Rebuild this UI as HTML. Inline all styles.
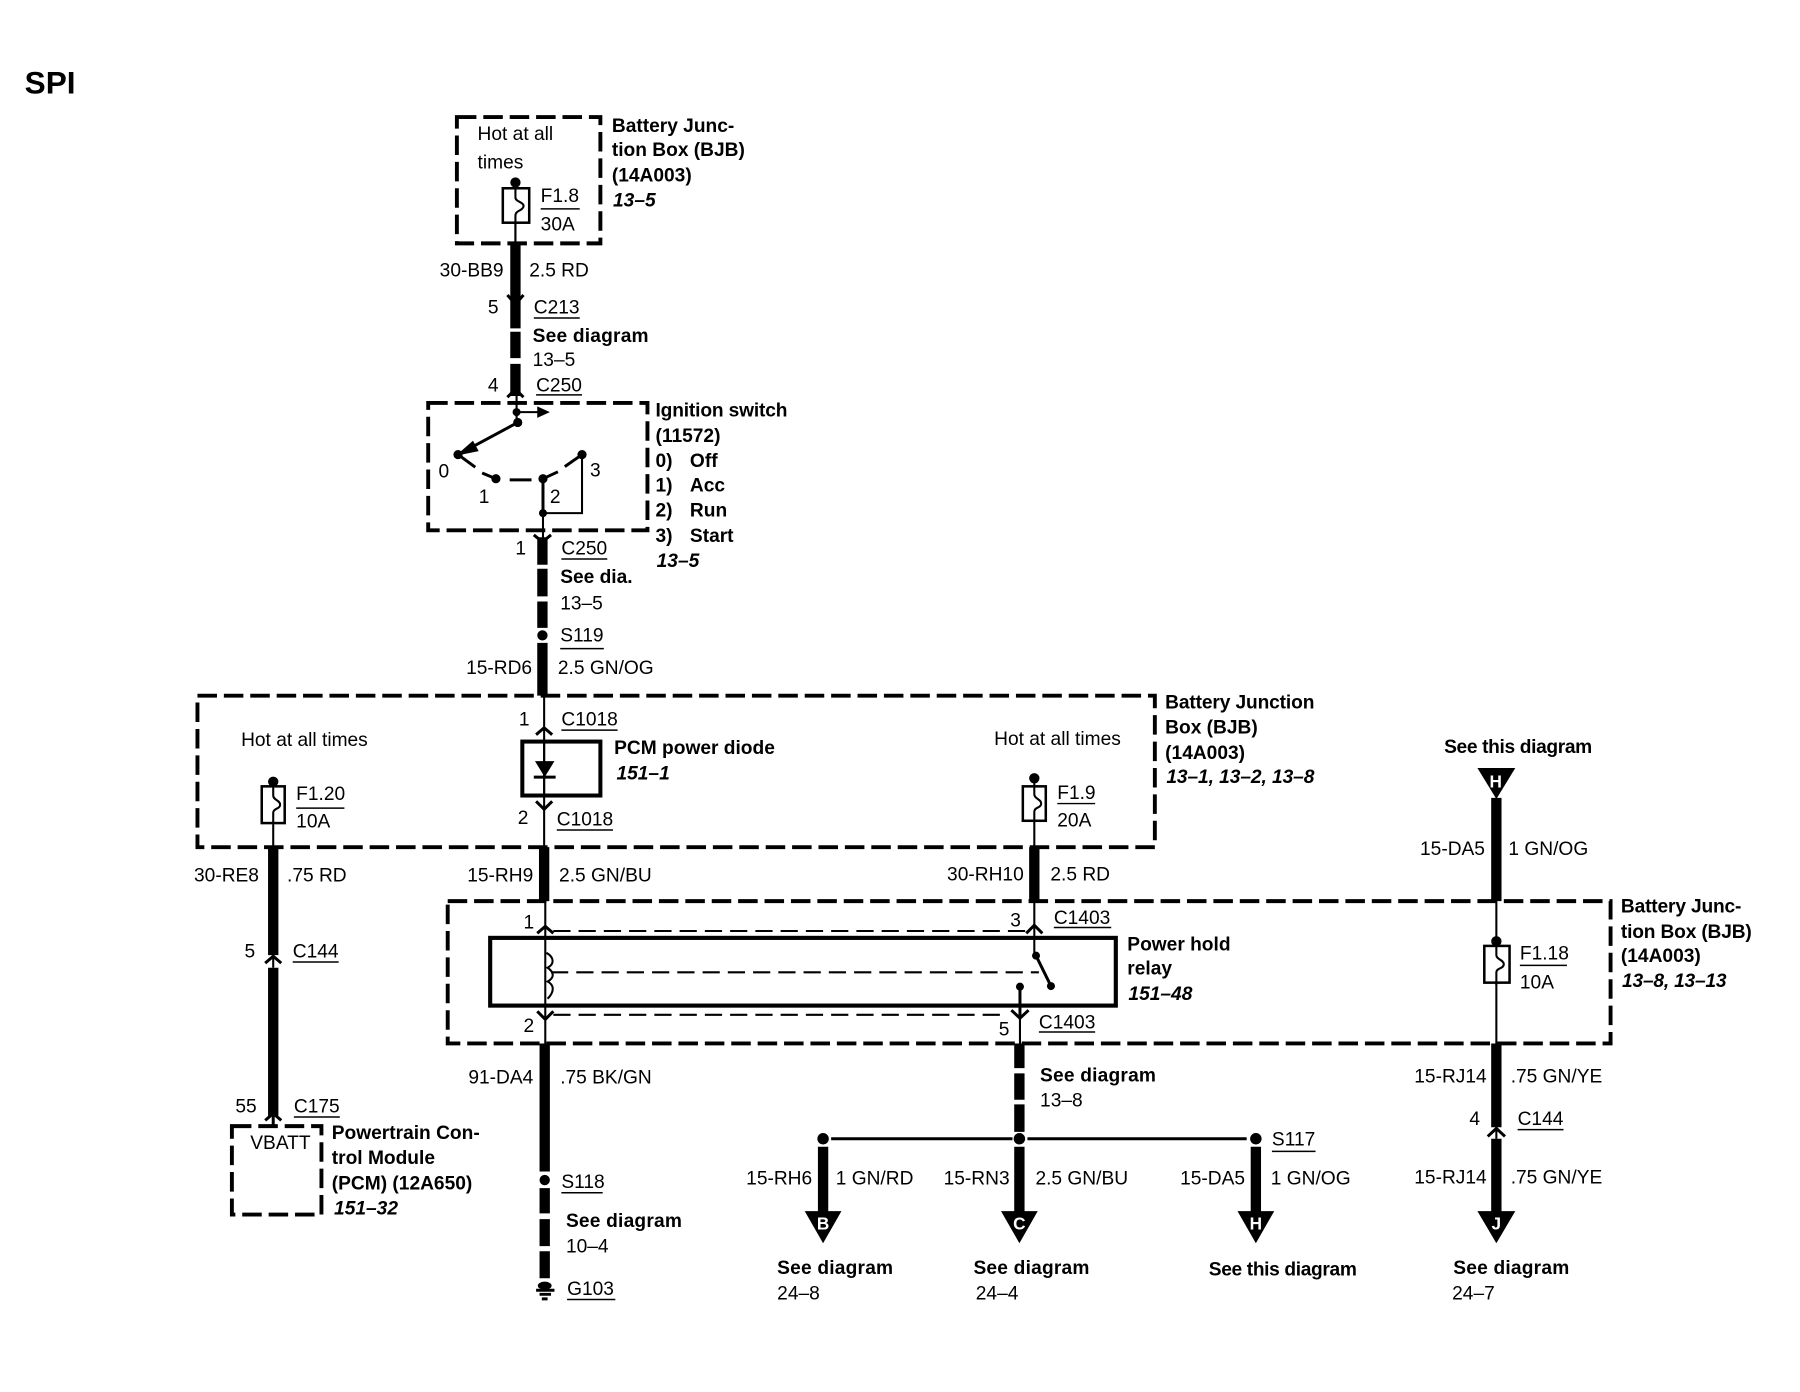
<!DOCTYPE html>
<html><head><meta charset="utf-8"><style>
html,body{margin:0;padding:0;background:#fff}
svg{display:block}
text{font-family:"Liberation Sans",sans-serif;font-size:16.7px;fill:#000}
.b{font-weight:bold}
.i{font-weight:bold;font-style:italic}
.w{fill:#fff;font-weight:bold;font-size:15px;text-anchor:middle}
.d{fill:none;stroke:#000;stroke-width:3.4;stroke-dasharray:17 6}
.t{fill:none;stroke:#000;stroke-width:1.8}
.k{fill:none;stroke:#000;stroke-width:9}
.c{fill:none;stroke:#000;stroke-width:2.6}
.u{fill:none;stroke:#000;stroke-width:1.3}
.r{fill:#fff;stroke:#000;stroke-width:2.2}
.l{fill:none;stroke:#000;stroke-width:1.8;stroke-dasharray:15 7}
</style></head><body>
<svg width="1800" height="1392" viewBox="0 0 1568 1212.6" xmlns="http://www.w3.org/2000/svg">
<rect width="1568" height="1212.6" fill="#fff"/>
<text x="21.500" y="81.500" class="b" style="font-size:27.500px">SPI</text>

<!-- dashed boxes -->
<rect class="d" x="398" y="102" width="125" height="110"/>
<rect class="d" x="373" y="351" width="191" height="111"/>
<rect class="d" x="172" y="606" width="834" height="132"/>
<rect class="d" x="390" y="785" width="1013" height="124"/>
<rect class="d" x="202" y="981" width="78" height="77"/>

<!-- top column -->
<path class="t" d="M449 159V212"/>
<circle cx="449" cy="159" r="4.5"/>
<rect class="r" x="438" y="164" width="23" height="30"/>
<path class="t" d="M449 159V172C449 176 457 176 456 180C455 184 449 183 449 188V212"/>
<path class="k" d="M449 212V286M449 289V312M449 317V345"/>
<path class="c" d="M442 257L449 265L456 257M442 346L449 339L456 346"/>
<path class="t" d="M450 345V368"/>
<circle cx="450" cy="359" r="3.5"/><circle cx="451" cy="368" r="4"/>
<path class="t" d="M450 359H470"/><path d="M468 354L479 359L468 364Z"/>
<path class="c" d="M451 368L399 396"/><path d="M397 397L412 384L417 393Z"/>
<circle cx="399" cy="396" r="4"/><circle cx="432" cy="417" r="4"/><circle cx="473" cy="417" r="4"/><circle cx="507" cy="396" r="4"/><circle cx="473" cy="447" r="3.5"/>
<path class="c" d="M399 396L414 407M420 412L432 417M444 418H463M473 417L486 411M492 406.500L507 396"/>
<path class="c" d="M473 417V447"/>
<path class="t" d="M507 396V447H473V470"/>
<path class="c" d="M465 466L472.500 472L480 466"/>
<path class="k" d="M472.500 468V492M472.500 495.500V519.500M472.500 524V547M472.500 560V606"/>
<circle cx="472.500" cy="553.500" r="4.5"/>

<!-- center column -->
<path class="t" d="M474 606V738"/>
<path class="c" d="M467 640L474 634L481 640M467 698L474 705L481 698"/>
<rect x="455" y="646" width="68" height="47" fill="none" stroke="#000" stroke-width="3.5"/>
<path d="M466 663H483L474.500 677Z"/><path class="c" d="M465 677H484"/>
<path class="t" d="M474 646V693"/>
<path class="k" d="M474 738V785"/>
<path class="t" d="M475 785V909"/>
<path class="c" d="M468 813L475 807L482 813M468 881L475 888L482 881"/>
<rect x="427" y="817" width="545" height="59" fill="none" stroke="#000" stroke-width="3.6"/>
<path class="t" d="M476 830C483 834 483 840 477 843C483 847 483 852 477 855C483 858 483 864 477 870"/>
<path class="l" d="M482 811H896M480 847H905M482 884H878"/>
<path class="k" d="M474.500 909V1020.500M474.500 1035V1057M474.500 1062V1085.500M474.500 1090V1113.500"/>
<circle cx="474.500" cy="1028" r="4.5"/>
<ellipse cx="474.500" cy="1120" rx="6" ry="3.500"/>
<path class="c" d="M467 1124H483M470 1127.500H480M472 1131.500H477"/>

<!-- F1.20 -->
<circle cx="238" cy="681" r="4.500"/>
<rect class="r" x="228" y="685" width="20" height="32"/>
<path class="t" d="M238 681V693C238 697 244 697 244 701C244 705 238 704 238 708V738"/>
<path class="k" d="M238 738V832M238 843V972"/>
<path class="t" d="M238 832V843"/>
<path class="c" d="M231 839L238 833L245 839M231 976L238 970L245 976"/>
<path class="c" d="M238 970V981"/>

<!-- F1.9 -->
<circle cx="901" cy="678" r="4.500"/>
<rect class="r" x="891" y="685" width="20" height="30"/>
<path class="t" d="M901 678V692C901 696 907 696 907 700C907 704 901 703 901 707V738"/>
<path class="k" d="M901 738V785"/>
<path class="t" d="M901 785V832"/>
<path class="c" d="M894 813L901 806L908 813"/>
<circle cx="902.500" cy="832.500" r="3.500"/><circle cx="915.500" cy="859" r="3.500"/>
<path class="c" d="M902.500 832.500L915.500 859"/>
<circle cx="888.500" cy="859.500" r="3.500"/>
<path class="c" d="M888.500 859.500V885"/><path class="t" d="M888.500 885V909"/>
<path class="c" d="M881 880L888.500 887L896 880"/>
<path class="k" d="M888 909V930.500M888 935V958M888 962V986"/>

<!-- bus -->
<path class="c" d="M724 992H882M895 992H1086"/>
<circle cx="717" cy="992" r="5"/><circle cx="888" cy="992" r="5"/><circle cx="1094" cy="992" r="5"/>
<path class="k" d="M717 999V1058M888 999V1058M1094 999V1058"/>
<path d="M701 1055H733L717 1083Z"/><path d="M872 1055H904L888 1083Z"/><path d="M1078 1055H1110L1094 1083Z"/>
<text x="717" y="1071" class="w">B</text><text x="888" y="1071" class="w">C</text><text x="1094" y="1071" class="w">H</text>

<!-- right column -->
<path d="M1287 669H1320L1303.500 696Z"/>
<text x="1303" y="686" class="w">H</text>
<path class="k" d="M1303.500 695V785"/>
<path class="t" d="M1303.500 785V909"/>
<circle cx="1303.500" cy="820" r="4.500"/>
<rect class="r" x="1293" y="824" width="22" height="32"/>
<path class="t" d="M1303.500 820V832C1303.500 836 1310 836 1310 840C1310 844 1303.500 843 1303.500 847V858"/>
<path class="k" d="M1303.500 909V982M1303.500 992V1058"/>
<path class="t" d="M1303.500 982V992"/>
<path class="c" d="M1296 990L1303.500 983L1311 990"/>
<path d="M1287 1055H1320L1303.500 1083Z"/>
<text x="1303.500" y="1071" class="w">J</text>

<!-- underlines -->
<path class="u" d="M471 182H505M465 277H505M467 344H507M489 487H529M488 565H526M258 704H300M489 636H538M485 723H534M921 700H954M255 838H295M256 973H296M918 808H968M905 899H954M1324 841H1365M1322 984H1362M489 1039H525M494 1132H536M1108 1003H1146"/>

<!-- labels -->
<text x="416" y="122">Hot at all</text><text x="416" y="147">times</text>
<text x="471" y="176">F1.8</text><text x="471" y="201">30A</text>
<text x="533" y="115" class="b">Battery Junc-</text><text x="533" y="136" class="b">tion Box (BJB)</text><text x="533" y="158" class="b">(14A003)</text><text x="534" y="180" class="i">13–5</text>
<text x="383" y="241">30-BB9</text><text x="461" y="241">2.5 RD</text>
<text x="425" y="273">5</text><text x="465" y="273">C213</text>
<text x="464" y="298" class="b" textLength="101">See diagram</text><text x="464" y="319">13–5</text>
<text x="425" y="341">4</text><text x="467" y="341">C250</text>
<text x="571" y="363" class="b" textLength="115">Ignition switch</text><text x="571" y="385" class="b">(11572)</text>
<text x="571" y="407" class="b">0)</text><text x="601" y="407" class="b">Off</text>
<text x="571" y="428" class="b">1)</text><text x="601" y="428" class="b">Acc</text>
<text x="571" y="450" class="b">2)</text><text x="601" y="450" class="b">Run</text>
<text x="571" y="472" class="b">3)</text><text x="601" y="472" class="b">Start</text>
<text x="572" y="494" class="i">13–5</text>
<text x="382" y="416">0</text><text x="417" y="438">1</text><text x="479" y="438">2</text><text x="514" y="415">3</text>
<text x="449" y="483">1</text><text x="489" y="483">C250</text>
<text x="488" y="508" class="b">See dia.</text><text x="488" y="531">13–5</text>
<text x="488" y="559">S119</text>
<text x="406" y="587">15-RD6</text><text x="486" y="587">2.5 GN/OG</text>

<text x="210" y="650">Hot at all times</text>
<text x="258" y="697">F1.20</text><text x="258" y="721">10A</text>
<text x="452" y="632">1</text><text x="489" y="632">C1018</text>
<text x="535" y="657" class="b">PCM power diode</text><text x="537" y="679" class="i">151–1</text>
<text x="451" y="718">2</text><text x="485" y="719">C1018</text>
<text x="866" y="649">Hot at all times</text>
<text x="921" y="696">F1.9</text><text x="921" y="720">20A</text>
<text x="1015" y="617" class="b" textLength="130">Battery Junction</text><text x="1015" y="639" class="b">Box (BJB)</text><text x="1015" y="661" class="b">(14A003)</text><text x="1016" y="682" class="i" textLength="129">13–1, 13–2, 13–8</text>

<text x="169" y="768">30-RE8</text><text x="250" y="768">.75 RD</text>
<text x="407" y="768">15-RH9</text><text x="487" y="768">2.5 GN/BU</text>
<text x="825" y="767">30-RH10</text><text x="915" y="767">2.5 RD</text>
<text x="213" y="834">5</text><text x="255" y="834">C144</text>
<text x="205" y="969">55</text><text x="256" y="969">C175</text>
<text x="218" y="1001">VBATT</text>
<text x="289" y="992" class="b">Powertrain Con-</text><text x="289" y="1014" class="b">trol Module</text><text x="289" y="1036" class="b">(PCM) (12A650)</text><text x="291" y="1058" class="i">151–32</text>

<text x="456" y="809">1</text><text x="456" y="899">2</text>
<text x="880" y="807">3</text><text x="918" y="805">C1403</text>
<text x="870" y="902">5</text><text x="905" y="896">C1403</text>
<text x="982" y="828" class="b">Power hold</text><text x="982" y="849" class="b">relay</text><text x="983" y="871" class="i">151–48</text>
<text x="1412" y="795" class="b" textLength="105">Battery Junc-</text><text x="1412" y="817" class="b" textLength="114">tion Box (BJB)</text><text x="1412" y="838" class="b">(14A003)</text><text x="1413" y="860" class="i" textLength="91">13–8, 13–13</text>
<text x="1258" y="656" class="b" textLength="129">See this diagram</text>
<text x="1237" y="745">15-DA5</text><text x="1314" y="745">1 GN/OG</text>
<text x="1324" y="836">F1.18</text><text x="1324" y="861">10A</text>

<text x="408" y="944">91-DA4</text><text x="488" y="944">.75 BK/GN</text>
<text x="906" y="942" class="b" textLength="101">See diagram</text><text x="906" y="964">13–8</text>
<text x="1232" y="943">15-RJ14</text><text x="1316" y="943">.75 GN/YE</text>
<text x="1280" y="980">4</text><text x="1322" y="980">C144</text>
<text x="1108" y="998">S117</text>
<text x="489" y="1035">S118</text>
<text x="493" y="1069" class="b" textLength="101">See diagram</text><text x="493" y="1091">10–4</text>
<text x="494" y="1128">G103</text>
<text x="650" y="1032">15-RH6</text><text x="728" y="1032">1 GN/RD</text>
<text x="822" y="1032">15-RN3</text><text x="902" y="1032">2.5 GN/BU</text>
<text x="1028" y="1032">15-DA5</text><text x="1107" y="1032">1 GN/OG</text>
<text x="1232" y="1031">15-RJ14</text><text x="1316" y="1031">.75 GN/YE</text>
<text x="677" y="1110" class="b" textLength="101">See diagram</text><text x="677" y="1132">24–8</text>
<text x="848" y="1110" class="b" textLength="101">See diagram</text><text x="850" y="1132">24–4</text>
<text x="1053" y="1111" class="b" textLength="129">See this diagram</text>
<text x="1266" y="1110" class="b" textLength="101">See diagram</text><text x="1265" y="1132">24–7</text>
</svg>
</body></html>
